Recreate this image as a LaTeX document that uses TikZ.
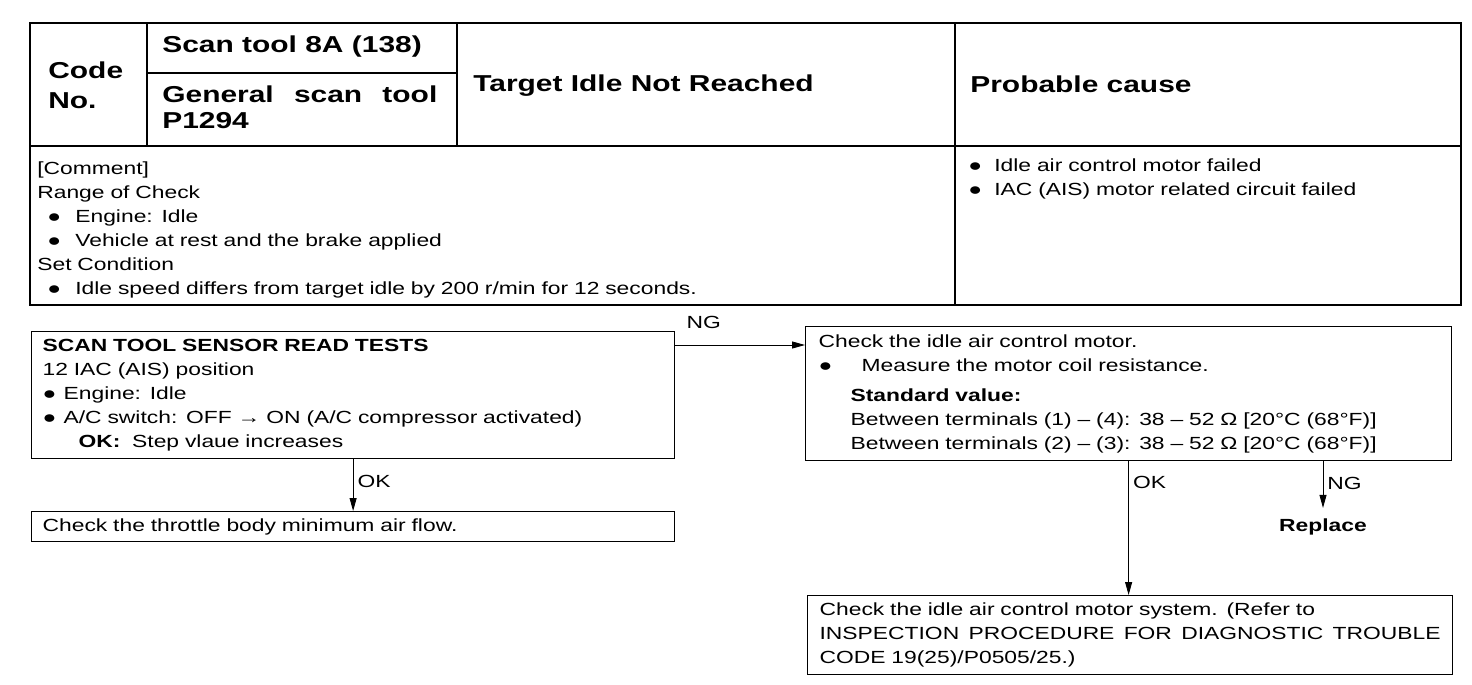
\documentclass[tikz,border=0pt]{standalone}
\usepackage{fontspec}
\setmainfont{Liberation Sans}[FakeStretch=1.3]
\usetikzlibrary{arrows.meta}

\newcommand{\bodyfont}{\fontsize{10}{13.66}\selectfont}
\newcommand{\headfont}{\fontsize{13.1}{17}\selectfont\bfseries}
\newcommand{\bul}[1]{\makebox[#1][l]{●}}

\begin{document}
\begin{tikzpicture}[
  tableouter/.style={line width=1.2pt},
  tableinner/.style={line width=0.6pt},
  headtext/.style={font=\headfont,inner sep=0pt,align=left,anchor=west},
  celltext/.style={font=\bodyfont,inner sep=0pt,align=left,anchor=north west},
  flowbox/.style={draw,line width=0.7pt,font=\bodyfont,align=left,anchor=north west,inner ysep=0pt},
  flowarrow/.style={line width=0.5pt,-{Triangle[length=0.26cm,width=0.14cm]}},
  flowlabel/.style={font=\bodyfont,inner sep=0pt}
]
\useasboundingbox (0,0) rectangle (29.44,-13.68);
% table
\draw[tableouter] (0.60,-0.46) rectangle (29.22,-6.10);
\draw[tableouter] (0.60,-2.92) -- (29.22,-2.92);
\draw[tableinner] (2.94,-0.46) -- (2.94,-2.92);
\draw[tableinner] (9.14,-0.46) -- (9.14,-2.92);
\draw[tableinner] (19.10,-0.46) -- (19.10,-6.10);
\draw[tableinner] (2.94,-1.46) -- (9.14,-1.46);
\node[headtext,text width=1.8cm] (codeno) at (0.96,-1.70) {Code\\No.};
\node[headtext] (scantool) at (3.24,-0.94) {Scan tool 8A (138)};
\node[headtext,text width=5.5cm,font=\fontsize{13.1}{14.8}\selectfont\bfseries] (generic) at (3.24,-2.14) {\makebox[5.5cm][l]{General\hfill scan\hfill tool}\\P1294};
\node[headtext] (target) at (9.46,-1.72) {Target Idle Not Reached};
\node[headtext] (probable) at (19.40,-1.68) {Probable cause};
\node[celltext,text width=17cm] (comment) at (0.74,-3.15) {\strut[Comment]\\
Range of Check\\
\hspace*{0.2cm}\bul{0.56cm}Engine: Idle\\
\hspace*{0.2cm}\bul{0.56cm}Vehicle at rest and the brake applied\\
Set Condition\\
\hspace*{0.2cm}\bul{0.56cm}Idle speed differs from target idle by 200 r/min for 12 seconds.};
\node[celltext,text width=9.5cm] (causes) at (19.36,-3.09) {\strut\bul{0.52cm}Idle air control motor failed\\
\bul{0.52cm}IAC (AIS) motor related circuit failed};
% flow chart
\node[flowbox,inner xsep=0.22cm,text width=12.42cm,minimum height=2.54cm] (scantest) at (0.62,-6.62) {\textbf{SCAN TOOL SENSOR READ TESTS}\\
12 IAC (AIS) position\\
\bul{0.42cm}Engine: Idle\\
\bul{0.42cm}A/C switch: OFF → ON (A/C compressor activated)\\
\hspace*{0.72cm}\textbf{OK:}\ \ Step vlaue increases};
\node[flowbox,inner xsep=0.22cm,text width=12.42cm,minimum height=0.60cm] (throttle) at (0.62,-10.22) {Check the throttle body minimum air flow.};
\node[flowbox,inner xsep=0.26cm,text width=12.40cm,minimum height=2.68cm] (iacmotor) at (16.10,-6.52) {Check the idle air control motor.\\
\bul{0.86cm}Measure the motor coil resistance.\\[0.12cm]
\hspace*{0.64cm}\textbf{Standard value:}\\
\hspace*{0.64cm}Between terminals (1) – (4): 38 – 52 Ω [20°C (68°F)]\\
\hspace*{0.64cm}Between terminals (2) – (3): 38 – 52 Ω [20°C (68°F)]};
\node[flowbox,inner xsep=0.24cm,text width=12.42cm,minimum height=1.58cm] (iacsystem) at (16.14,-11.90) {Check the idle air control motor system. (Refer to\\
\makebox[12.42cm][l]{INSPECTION\hfill PROCEDURE\hfill FOR\hfill DIAGNOSTIC\hfill TROUBLE}\\
CODE 19(25)/P0505/25.)};
\node[font=\bodyfont\bfseries,inner xsep=0pt,inner ysep=6pt] (replace) at (26.46,-10.54) {Replace};
\draw[flowarrow] ([yshift=-0.28cm]scantest.north east) -- ([yshift=-0.28cm]scantest.north east -| iacmotor.west) node[flowlabel,pos=0.22,above=0.31cm] (ngright) {NG};
\draw[flowarrow] (scantest.south) -- (scantest.south |- throttle.north) node[flowlabel,pos=0.42,right=0.08cm] (okleft) {OK};
\draw[flowarrow] (iacmotor.south) -- (iacmotor.south |- iacsystem.north) node[flowlabel,pos=0.16,right=0.08cm] (okright) {OK};
\draw[flowarrow] (iacmotor.south -| replace.north) -- (replace.north) node[flowlabel,pos=0.47,right=0.08cm] (ngdown) {NG};
\end{tikzpicture}
\end{document}
